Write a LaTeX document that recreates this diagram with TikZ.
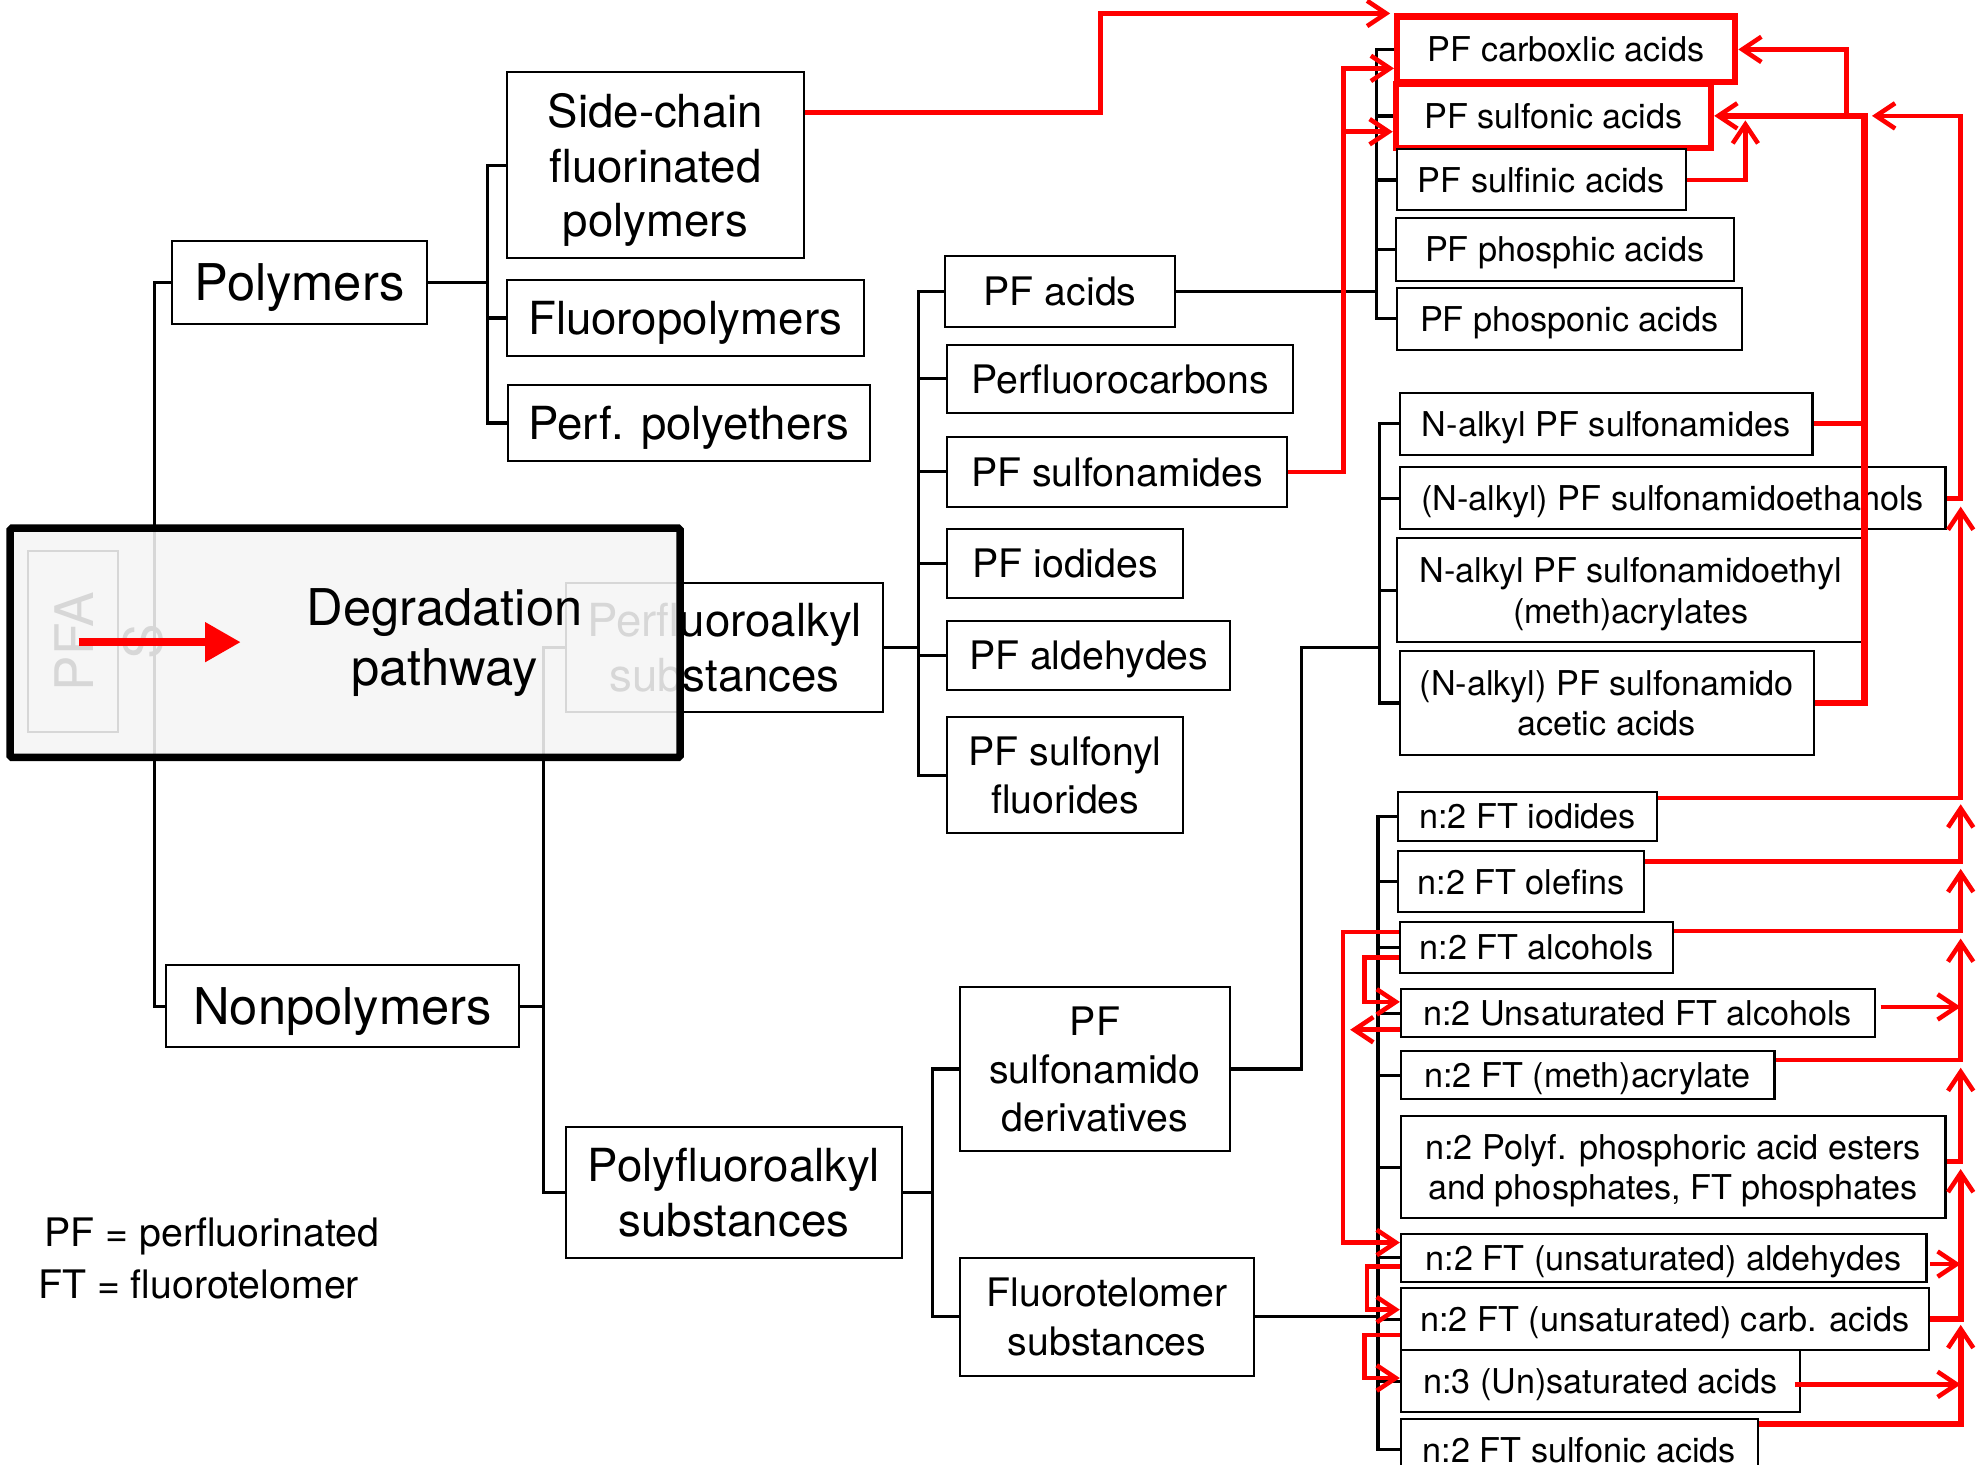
\documentclass[tikz,border=0pt]{standalone}
\usepackage{fontspec}
\setmainfont{TeX Gyre Heros}
\usepackage{tikz}
\usetikzlibrary{arrows.meta}
\pgfdeclarelayer{background}
\pgfdeclarelayer{foreground}
\pgfsetlayers{background,main,foreground}

\newcommand{\fontRoot}{\fontsize{42}{55}\selectfont}
\newcommand{\fontTop}{\fontsize{40}{48}\selectfont}
\newcommand{\fontSub}{\fontsize{36}{43}\selectfont}
\newcommand{\fontMid}{\fontsize{31}{38}\selectfont}
\newcommand{\fontLeaf}{\fontsize{27}{32}\selectfont}

\tikzset{
	box/.style={draw=black, line width=1.6pt, fill=white, inner sep=0pt, align=center, text depth=0pt},
	redbox/.style={box, draw=red, line width=4.8pt},
	tree/.style={draw=black, line width=2.6pt},
	link/.style={draw=red, line width=3.6pt},
	flow/.style={link, -{Straight Barb[length=15pt, width=20pt, line width=3.6pt]}},
	greybox/.style={draw=black, line width=6pt, fill=black!4, fill opacity=0.88, rounded corners=1.5pt}
}

\begin{document}
\begin{tikzpicture}[x=1pt,y=-1pt]
				\useasboundingbox (0,0) rectangle (1568,1156);
				\clip (0,0) rectangle (1568,1156);

				%Nodes
				\node[box, rotate=90, minimum width=143pt, minimum height=71pt] (pfas) at (57.5,506.5) {};
				\node[rotate=90, align=center, font=\fontRoot] (pfastxt) at (86,506.5) {PFA\\S};

				\node[box, minimum width=201pt, minimum height=66pt, font=\fontTop] (poly) at (236.5,223) {Polymers};
				\node[box, minimum width=279pt, minimum height=65pt, font=\fontTop] (nonpoly) at (270.5,794.5) {Nonpolymers};

				\node[box, minimum width=235pt, minimum height=147pt, font=\fontSub] (side) at (517.5,130.5) {Side-chain\\fluorinated\\polymers};
				\node[box, minimum width=282pt, minimum height=60pt, font=\fontSub] (fluoro) at (541,251) {Fluoropolymers};
				\node[box, minimum width=286pt, minimum height=60pt, font=\fontSub] (perf) at (544,334) {Perf. polyethers};
				\node[box, minimum width=250pt, minimum height=102pt, font=\fontSub] (perfalk) at (572,511) {Perfluoroalkyl\\substances};
				\node[box, minimum width=265pt, minimum height=103pt, font=\fontSub] (polyfalk) at (579.5,941.5) {Polyfluoroalkyl\\substances};

				\node[box, minimum width=182pt, minimum height=56pt, font=\fontMid] (pfacid) at (837,230) {PF acids};
				\node[box, minimum width=273pt, minimum height=54pt, font=\fontMid] (pfc) at (884.5,299) {Perfluorocarbons};
				\node[box, minimum width=268pt, minimum height=55pt, font=\fontMid] (pfsam) at (882,372.5) {PF sulfonamides};
				\node[box, minimum width=186pt, minimum height=54pt, font=\fontMid] (pfiod) at (841,445) {PF iodides};
				\node[box, minimum width=223pt, minimum height=55pt, font=\fontMid] (pfald) at (859.5,517.5) {PF aldehydes};
				\node[box, minimum width=186pt, minimum height=92pt, font=\fontMid] (pfsf) at (841,612) {PF sulfonyl\\fluorides};
				\node[box, minimum width=213pt, minimum height=130pt, font=\fontMid] (pfsder) at (864.5,844) {PF\\sulfonamido\\derivatives};
				\node[box, minimum width=232pt, minimum height=93pt, font=\fontMid] (ftsub) at (874,1039.5) {Fluorotelomer\\substances};

				\node[redbox, minimum width=267pt, minimum height=52pt, font=\fontLeaf] (carb) at (1236.5,39) {PF carboxlic acids};
				\node[redbox, minimum width=249pt, minimum height=51pt, font=\fontLeaf] (sulf) at (1226.5,91.5) {PF sulfonic acids};
				\node[box, minimum width=228pt, minimum height=48pt, font=\fontLeaf] (sulfin) at (1217,142) {PF sulfinic acids};
				\node[box, minimum width=267pt, minimum height=50pt, font=\fontLeaf] (phic) at (1235.5,197) {PF phosphic acids};
				\node[box, minimum width=272pt, minimum height=49pt, font=\fontLeaf] (phon) at (1239,251.5) {PF phosponic acids};

				\node[box, minimum width=326pt, minimum height=49pt, font=\fontLeaf] (nsam) at (1268,334.5) {N-alkyl PF sulfonamides};
				\node[box, minimum width=431pt, minimum height=49pt, font=\fontLeaf] (eth) at (1320.5,393.5) {(N-alkyl) PF sulfonamidoethanols};
				\node[box, minimum width=369pt, minimum height=82pt, font=\fontLeaf] (acrs) at (1287.5,466) {N-alkyl PF sulfonamidoethyl\\(meth)acrylates};
				\node[box, minimum width=327pt, minimum height=82pt, font=\fontLeaf] (acet) at (1268.5,555) {(N-alkyl) PF sulfonamido\\acetic acids};

				\node[box, minimum width=204pt, minimum height=39pt, font=\fontLeaf] (iod) at (1206,644.5) {n:2 FT iodides};
				\node[box, minimum width=194pt, minimum height=48pt, font=\fontLeaf] (ole) at (1201,696) {n:2 FT olefins};
				\node[box, minimum width=216pt, minimum height=40pt, font=\fontLeaf] (alc) at (1213,748) {n:2 FT alcohols};
				\node[box, minimum width=374pt, minimum height=38pt, font=\fontLeaf] (unsat) at (1293,800) {n:2 Unsaturated FT alcohols};
				\node[box, minimum width=295pt, minimum height=38pt, font=\fontLeaf] (acr) at (1253.5,849) {n:2 FT (meth)acrylate};
				\node[box, minimum width=430pt, minimum height=81pt, font=\fontLeaf] (polyf) at (1321,921.5) {n:2 Polyf. phosphoric acid esters\\and phosphates, FT phosphates};
				\node[box, minimum width=415pt, minimum height=38pt, font=\fontLeaf] (ald) at (1313.5,993) {n:2 FT (unsaturated) aldehydes};
				\node[box, minimum width=417pt, minimum height=49pt, font=\fontLeaf] (carbacid) at (1314.5,1041.5) {n:2 FT (unsaturated) carb. acids};
				\node[box, minimum width=315pt, minimum height=49pt, font=\fontLeaf] (nthree) at (1263.5,1090.5) {n:3 (Un)saturated acids};
				\node[box, minimum width=282pt, minimum height=49pt, font=\fontLeaf] (ftsulf) at (1247,1144.5) {n:2 FT sulfonic acids};

				\node[anchor=west, inner sep=0pt, font=\fontMid] (legPF) at (35,976) {PF = perfluorinated};
				\node[anchor=west, inner sep=0pt, font=\fontMid] (legFT) at (30,1014) {FT = fluorotelomer};

				\coordinate (bRoot) at (122,0);
				\coordinate (bPoly) at (385,0);
				\coordinate (bNon) at (429,0);
				\coordinate (bPerf) at (725,0);
				\coordinate (bPolyf) at (736,0);
				\coordinate (bAcid) at (1087,0);
				\coordinate (samJ) at (1089,511);
				\coordinate (bFT) at (1088,0);

				\coordinate (colAtop) at (1472,91.5);
				\coordinate (colBtop) at (1458,91.5);
				\coordinate (colCtop) at (1548,91.5);
				\coordinate (tipSulfin) at (1378,95);
				\coordinate (tipSulfR) at (1478,91.5);
				\coordinate (tipEth) at (1548,400);
				\coordinate (tipIod) at (1548,635);
				\coordinate (tipOle) at (1548,686);
				\coordinate (tipAlc) at (1548,741);
				\coordinate (tipAcr) at (1548,843);
				\coordinate (tipPolyf) at (1548,923);
				\coordinate (tipCarbR) at (1548,1046);
				\coordinate (endUnsat) at (1548,795);
				\coordinate (endAld) at (1548,998);
				\coordinate (endNthree) at (1548,1093);
				\coordinate (tipUnsatL) at (1066,813);

				%Lines
				\draw[tree] (pfas.south) -- (pfas.south -| bRoot);
				\draw[tree] (poly.west) -- (poly.west -| bRoot) |- (nonpoly.west);
				\draw[tree] (poly.east) -- (poly.east -| bPoly);
				\draw[tree] (side.west) -- (side.west -| bPoly) |- (perf.west);
				\draw[tree] (fluoro.west) -- (fluoro.west -| bPoly);
				\draw[tree] (nonpoly.east) -- (nonpoly.east -| bNon);
				\draw[tree] (perfalk.west) -- (perfalk.west -| bNon) |- (polyfalk.west);

				\draw[tree] (perfalk.east) -- (perfalk.east -| bPerf);
				\draw[tree] (pfacid.west) -- (pfacid.west -| bPerf) |- (pfsf.west);
				\draw[tree] (pfc.west) -- (pfc.west -| bPerf);
				\draw[tree] (pfsam.west) -- (pfsam.west -| bPerf);
				\draw[tree] (pfiod.west) -- (pfiod.west -| bPerf);
				\draw[tree] (pfald.west) -- (pfald.west -| bPerf);

				\draw[tree] (polyfalk.east) -- (polyfalk.east -| bPolyf);
				\draw[tree] (pfsder.west) -- (pfsder.west -| bPolyf) |- (ftsub.west);

				\draw[tree] (pfacid.east) -- (pfacid.east -| bAcid);
				\draw[tree] (carb.west) -- (carb.west -| bAcid) |- (phon.west);
				\draw[tree] (sulf.west) -- (sulf.west -| bAcid);
				\draw[tree] (sulfin.west) -- (sulfin.west -| bAcid);
				\draw[tree] (phic.west) -- (phic.west -| bAcid);

				\draw[tree] (pfsder.east) -- ++(56,0) |- (samJ);
				\draw[tree] (nsam.west) -- (nsam.west -| samJ) |- (acet.west);
				\draw[tree] (eth.west) -- (eth.west -| samJ);
				\draw[tree] (acrs.west) -- (acrs.west -| samJ);

				\draw[tree] (ftsub.east) -- (ftsub.east -| bFT);
				\draw[tree] (iod.west) -- (iod.west -| bFT) |- (ftsulf.west);
				\draw[tree] (ole.west) -- (ole.west -| bFT);
				\draw[tree] (alc.west) -- (alc.west -| bFT);
				\draw[tree] (unsat.west) -- (unsat.west -| bFT);
				\draw[tree] (acr.west) -- (acr.west -| bFT);
				\draw[tree] (polyf.west) -- (polyf.west -| bFT);
				\draw[tree] (ald.west) -- (ald.west -| bFT);
				\draw[tree] (carbacid.west) -- (carbacid.west -| bFT);
				\draw[tree] (nthree.west) -- (nthree.west -| bFT);

				%Degradation links
				\draw[flow] ([yshift=41.5pt]side.east) -- ++(233,0) |- ([xshift=-3pt]carb.north west);
				\draw[flow] (pfsam.east) -- ++(44,0) |- ([yshift=-15pt]carb.west);
				\draw[flow] (pfsam.east) -- ++(44,0) |- ([yshift=-12.5pt]sulf.west);
				\draw[flow] (sulfin.east) -| (tipSulfin);

				\draw[link] (nsam.east) -- (nsam.east -| colAtop);
				\draw[flow, line width=5pt] (acet.east) -| (colAtop) -- (sulf.east);
				\draw[flow] (colBtop) |- (carb.east);

				\draw[flow] (eth.east) -| (colCtop) -- (tipSulfR);
				\draw[flow] ([yshift=14.5pt]iod.east) -| (tipEth);
				\draw[flow] ([yshift=16pt]ole.east) -| (tipIod);
				\draw[flow] ([yshift=13pt]alc.east) -| (tipOle);
				\draw[flow] ([xshift=4pt,yshift=5pt]unsat.east) -- (endUnsat);
				\draw[flow] ([yshift=12pt]acr.east) -| (tipAlc);
				\draw[flow] ([yshift=4.5pt]polyf.east) -| (tipAcr);
				\draw[flow] ([xshift=2pt,yshift=-5pt]ald.east) -- (endAld);
				\draw[flow, line width=4.5pt] (carbacid.east) -| (tipPolyf);
				\draw[flow] ([xshift=-5pt,yshift=-2.5pt]nthree.east) -- (endNthree);
				\draw[flow, line width=4.5pt] ([yshift=20.5pt]ftsulf.east) -| (tipCarbR);

				\draw[flow] ([yshift=12pt]alc.west) -- ++(-44,0) |- ([yshift=12pt]ald.west);
				\draw[flow] ([yshift=-8pt]alc.west) -- ++(-27,0) |- ([yshift=9pt]unsat.west);
				\draw[flow] ([yshift=-13pt]unsat.west) -- (tipUnsatL);
				\draw[flow] ([yshift=-7pt]ald.west) -- ++(-26,0) |- ([yshift=7.5pt]carbacid.west);
				\draw[flow] ([yshift=-12.5pt]carbacid.west) -- ++(-28,0) |- ([yshift=2.5pt]nthree.west);

				%Overlay
				\begin{pgfonlayer}{foreground}
					\node[greybox, minimum width=529pt, minimum height=181pt] (degr) at (272.5,507.5) {};
					\node[align=center, font=\fontTop, text depth=0pt] (degrtxt) at (351,503) {Degradation\\pathway};
					\coordinate (dgStart) at (62,507);
					\coordinate (dgEnd) at (190,507);
					\draw[red, line width=6pt, -{Triangle[length=28pt, width=30pt]}] (dgStart) -- (dgEnd);
				\end{pgfonlayer}

		\end{tikzpicture}
\end{document}
